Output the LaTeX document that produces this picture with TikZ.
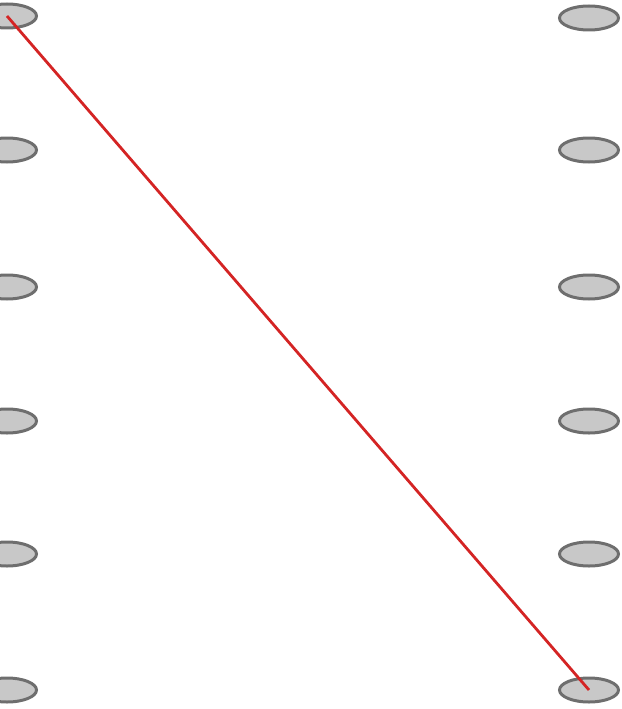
\documentclass[tikz,border=0pt]{standalone}
\usetikzlibrary{shapes.geometric}
\definecolor{nodefill}{HTML}{C8C8C8}
\definecolor{nodeedge}{HTML}{6E6E6E}
\definecolor{linkred}{HTML}{D42424}
\tikzset{
  port/.style={ellipse, draw=nodeedge, fill=nodefill, line width=3pt, minimum width=59pt, minimum height=24pt, inner sep=0pt},
  link/.style={draw=linkred, line width=2.8pt}
}
\begin{document}
\begin{tikzpicture}[x=1pt,y=-1pt]
\useasboundingbox (0,0) rectangle (621,709);
\clip (0,0) rectangle (621,709);
\node[port] (l1) at (7,16) {};
\node[port] (l2) at (7,150) {};
\node[port] (l3) at (7,287) {};
\node[port] (l4) at (7,421) {};
\node[port] (l5) at (7,554) {};
\node[port] (l6) at (7,690) {};
\node[port] (r1) at (589,18) {};
\node[port] (r2) at (589,150) {};
\node[port] (r3) at (589,287) {};
\node[port] (r4) at (589,421) {};
\node[port] (r5) at (589,554) {};
\node[port] (r6) at (589,690) {};
\draw[link] (l1.center) -- (r6.center);
\end{tikzpicture}
\end{document}
